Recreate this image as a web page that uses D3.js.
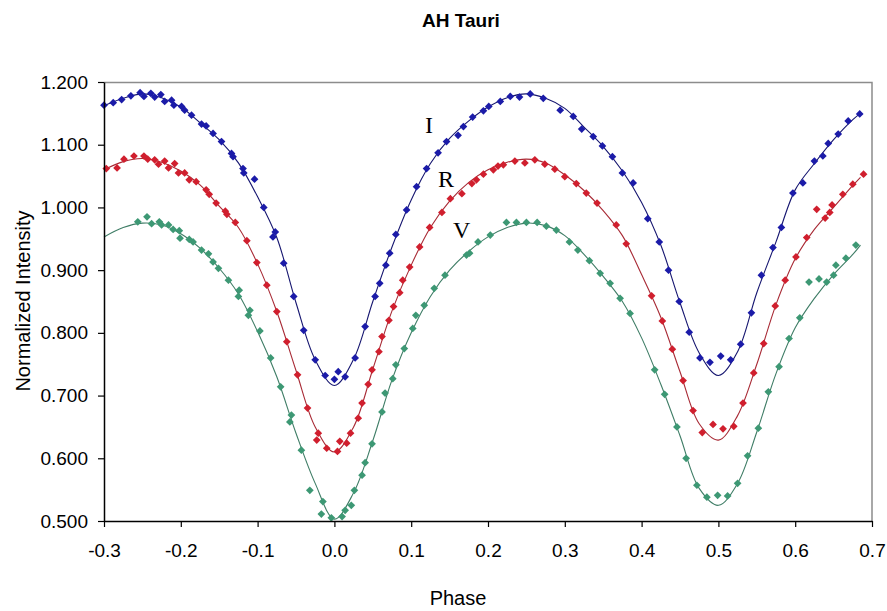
<!DOCTYPE html>
<html>
<head>
<meta charset="utf-8">
<script src="https://cdn.jsdelivr.net/npm/d3@7"></script>
<style>
  body { margin: 0; background: #fff; }
  svg { display: block; }
  .tick text { font-family: "Liberation Sans", Arial, sans-serif; font-size: 19px; fill: #000; }
</style>
</head>
<body>
<script>
// AH Tauri light curve in three bands (I, R, V)

// tick labels
var xTicks = [-0.3, -0.2, -0.1, 0.0, 0.1, 0.2, 0.3, 0.4, 0.5, 0.6, 0.7];
var yTicks = [0.5, 0.6, 0.7, 0.8, 0.9, 1.0, 1.1, 1.2];

// phases of the fitted model curves
var modelPhase = [-0.300, -0.275, -0.250, -0.225, -0.200, -0.175, -0.150, -0.125, -0.100, -0.075,
                  -0.050, -0.025, 0.000, 0.025, 0.050, 0.075, 0.100, 0.125, 0.150, 0.175,
                  0.200, 0.225, 0.250, 0.275, 0.300, 0.325, 0.350, 0.375, 0.400, 0.425,
                  0.450, 0.475, 0.500, 0.525, 0.550, 0.575, 0.600, 0.625, 0.650, 0.675, 0.685];

var modelI = [1.162, 1.174, 1.181, 1.175, 1.160, 1.135, 1.108, 1.071, 1.017, 0.952,
              0.848, 0.757, 0.716, 0.758, 0.850, 0.937, 1.012, 1.070, 1.110, 1.138,
              1.160, 1.175, 1.181, 1.174, 1.158, 1.128, 1.097, 1.058, 1.008, 0.940,
              0.848, 0.768, 0.732, 0.770, 0.864, 0.945, 1.028, 1.070, 1.108, 1.140, 1.150];

var modelR = [1.060, 1.073, 1.078, 1.072, 1.058, 1.036, 1.002, 0.968, 0.910, 0.834,
              0.740, 0.650, 0.610, 0.650, 0.742, 0.835, 0.908, 0.968, 1.010, 1.040,
              1.060, 1.072, 1.077, 1.071, 1.052, 1.027, 0.995, 0.955, 0.893, 0.825,
              0.738, 0.655, 0.629, 0.668, 0.750, 0.845, 0.918, 0.965, 1.000, 1.035, 1.048];

var modelV = [0.953, 0.968, 0.975, 0.972, 0.958, 0.935, 0.903, 0.862, 0.802, 0.730,
              0.640, 0.560, 0.503, 0.545, 0.628, 0.725, 0.800, 0.858, 0.900, 0.930,
              0.953, 0.968, 0.975, 0.971, 0.955, 0.925, 0.890, 0.850, 0.792, 0.718,
              0.636, 0.552, 0.525, 0.560, 0.642, 0.735, 0.808, 0.855, 0.893, 0.925, 0.940];

// observed points, I band
var obsPhaseI = [-0.300, -0.288, -0.277, -0.265, -0.253, -0.248, -0.239, -0.234, -0.226, -0.221,
                 -0.212, -0.209, -0.199, -0.195, -0.186, -0.173, -0.167, -0.158, -0.147, -0.134,
                 -0.132, -0.119, -0.118, -0.104, -0.092, -0.080, -0.077, -0.066, -0.053, -0.040,
                 -0.025, -0.012, 0.000, 0.005, 0.014, 0.027, 0.040, 0.053, 0.059, 0.067,
                 0.072, 0.080, 0.094, 0.107, 0.120, 0.135, 0.146, 0.161, 0.168, 0.180,
                 0.194, 0.201, 0.216, 0.229, 0.241, 0.255, 0.272, 0.294, 0.311, 0.322,
                 0.337, 0.349, 0.362, 0.375, 0.389, 0.408, 0.423, 0.435, 0.449, 0.462,
                 0.476, 0.489, 0.503, 0.516, 0.529, 0.543, 0.556, 0.571, 0.582, 0.597,
                 0.610, 0.625, 0.636, 0.643, 0.656, 0.669, 0.684];
var obsI = [1.163, 1.167, 1.172, 1.178, 1.183, 1.177, 1.182, 1.176, 1.180, 1.169,
            1.171, 1.163, 1.161, 1.155, 1.147, 1.133, 1.130, 1.118, 1.105, 1.086,
            1.081, 1.062, 1.055, 1.045, 1.000, 0.953, 0.961, 0.911, 0.858, 0.804,
            0.757, 0.732, 0.726, 0.738, 0.730, 0.760, 0.810, 0.858, 0.879, 0.908,
            0.927, 0.957, 0.996, 1.033, 1.062, 1.087, 1.105, 1.115, 1.129, 1.144,
            1.154, 1.161, 1.169, 1.177, 1.176, 1.181, 1.174, 1.155, 1.145, 1.125,
            1.113, 1.098, 1.081, 1.055, 1.039, 0.982, 0.945, 0.900, 0.850, 0.801,
            0.760, 0.753, 0.763, 0.757, 0.782, 0.832, 0.892, 0.936, 0.968, 1.023,
            1.039, 1.074, 1.082, 1.102, 1.117, 1.138, 1.149];

// observed points, R band
var obsPhaseR = [-0.297, -0.283, -0.274, -0.261, -0.248, -0.243, -0.234, -0.229, -0.221, -0.216,
                 -0.208, -0.203, -0.195, -0.189, -0.180, -0.167, -0.163, -0.154, -0.142, -0.140,
                 -0.129, -0.114, -0.101, -0.088, -0.075, -0.062, -0.048, -0.035, -0.021, -0.023,
                 -0.010, 0.004, 0.007, 0.016, 0.021, 0.031, 0.036, 0.044, 0.049, 0.058,
                 0.062, 0.071, 0.077, 0.085, 0.089, 0.098, 0.111, 0.124, 0.140, 0.151,
                 0.166, 0.179, 0.185, 0.194, 0.207, 0.213, 0.220, 0.235, 0.248, 0.261,
                 0.274, 0.287, 0.300, 0.315, 0.328, 0.342, 0.367, 0.380, 0.413, 0.427,
                 0.440, 0.454, 0.467, 0.479, 0.493, 0.506, 0.520, 0.532, 0.546, 0.559,
                 0.574, 0.587, 0.601, 0.615, 0.628, 0.639, 0.645, 0.648, 0.662, 0.675, 0.689];
var obsR = [1.062, 1.063, 1.077, 1.082, 1.082, 1.077, 1.076, 1.069, 1.074, 1.063,
            1.070, 1.055, 1.055, 1.044, 1.041, 1.028, 1.021, 1.007, 0.994, 0.989,
            0.976, 0.947, 0.912, 0.876, 0.834, 0.786, 0.733, 0.680, 0.640, 0.629,
            0.616, 0.611, 0.627, 0.624, 0.640, 0.664, 0.688, 0.718, 0.741, 0.770,
            0.794, 0.820, 0.842, 0.864, 0.884, 0.905, 0.937, 0.968, 0.992, 1.014,
            1.022, 1.038, 1.044, 1.053, 1.060, 1.066, 1.068, 1.074, 1.071, 1.076,
            1.069, 1.061, 1.049, 1.038, 1.023, 1.007, 0.972, 0.942, 0.859, 0.819,
            0.774, 0.724, 0.676, 0.641, 0.654, 0.647, 0.651, 0.688, 0.736, 0.783,
            0.843, 0.884, 0.921, 0.952, 0.997, 0.983, 0.992, 1.004, 1.021, 1.037, 1.053];

// observed points, V band
var obsPhaseV = [-0.256, -0.244, -0.238, -0.228, -0.225, -0.216, -0.210, -0.202, -0.201, -0.189,
                 -0.184, -0.173, -0.164, -0.158, -0.151, -0.138, -0.124, -0.125, -0.110, -0.112,
                 -0.097, -0.083, -0.070, -0.056, -0.058, -0.043, -0.032, -0.015, -0.017, -0.004,
                 0.010, 0.014, 0.022, 0.026, 0.036, 0.040, 0.049, 0.062, 0.066, 0.076,
                 0.080, 0.091, 0.102, 0.106, 0.117, 0.130, 0.144, 0.172, 0.176, 0.187,
                 0.203, 0.224, 0.237, 0.250, 0.264, 0.276, 0.289, 0.306, 0.317, 0.332,
                 0.346, 0.359, 0.372, 0.385, 0.417, 0.430, 0.446, 0.458, 0.472, 0.485,
                 0.499, 0.512, 0.525, 0.538, 0.552, 0.565, 0.579, 0.592, 0.606, 0.618,
                 0.631, 0.641, 0.650, 0.653, 0.666, 0.679];
var obsV = [0.977, 0.985, 0.974, 0.977, 0.972, 0.972, 0.965, 0.963, 0.951, 0.949,
            0.945, 0.932, 0.926, 0.913, 0.903, 0.884, 0.868, 0.858, 0.836, 0.828,
            0.803, 0.760, 0.714, 0.669, 0.658, 0.613, 0.549, 0.531, 0.511, 0.505,
            0.507, 0.517, 0.525, 0.549, 0.573, 0.593, 0.623, 0.674, 0.704, 0.727,
            0.749, 0.775, 0.807, 0.828, 0.844, 0.871, 0.892, 0.924, 0.927, 0.945,
            0.956, 0.976, 0.976, 0.976, 0.976, 0.970, 0.964, 0.945, 0.932, 0.915,
            0.895, 0.879, 0.855, 0.831, 0.741, 0.702, 0.650, 0.600, 0.557, 0.538,
            0.541, 0.540, 0.560, 0.604, 0.648, 0.706, 0.746, 0.791, 0.824, 0.881,
            0.886, 0.881, 0.892, 0.908, 0.919, 0.940];

var bands = [
  { name: "I", model: modelI, phase: obsPhaseI, obs: obsI, dot: "#1b1ba8", line: "#161670", lx: 425, ly: 133 },
  { name: "R", model: modelR, phase: obsPhaseR, obs: obsR, dot: "#d01f2e", line: "#a82a35", lx: 438, ly: 187 },
  { name: "V", model: modelV, phase: obsPhaseV, obs: obsV, dot: "#3d9874", line: "#3f7d66", lx: 453, ly: 238 }
];

var svgWidth = 887, svgHeight = 611;
var margin = { top: 82, right: 15, bottom: 90, left: 104 };
var width = svgWidth - margin.left - margin.right;
var height = svgHeight - margin.top - margin.bottom;

var svg = d3.select("body").append("svg")
    .attr("width", svgWidth)
    .attr("height", svgHeight);

var g = svg.append("g")
    .attr("transform", "translate(" + margin.left + "," + margin.top + ")");

var xScale = d3.scaleLinear().domain([-0.3, 0.7]).range([0, width]);
var yScale = d3.scaleLinear().domain([0.5, 1.2]).range([height, 0]);

// plot frame: grey top and right
g.append("path")
    .attr("d", "M0,0.5H" + width + "V" + height)
    .attr("fill", "none")
    .attr("stroke", "#8c8c8c")
    .attr("stroke-width", 1.5);

// model curves
bands.forEach(function(b) {
  var line = d3.line()
      .x(function(d, i) { return xScale(modelPhase[i]); })
      .y(function(d) { return yScale(d); })
      .curve(d3.curveCatmullRom.alpha(0.5));
  g.append("path")
      .datum(b.model)
      .attr("d", line)
      .attr("fill", "none")
      .attr("stroke", b.line)
      .attr("stroke-width", 1.1);
});

// observed points as diamonds
var diamond = d3.symbol().type(d3.symbolSquare).size(30);
bands.forEach(function(b) {
  g.append("g").selectAll("path")
      .data(b.obs)
      .enter()
      .append("path")
      .attr("d", diamond)
      .attr("transform", function(d, i) {
        return "translate(" + xScale(b.phase[i]) + "," + yScale(d) + ") rotate(45)";
      })
      .attr("fill", b.dot);
});

// band labels
bands.forEach(function(b) {
  svg.append("text")
      .attr("x", b.lx)
      .attr("y", b.ly)
      .style("font-family", "'Liberation Serif', 'Times New Roman', serif")
      .style("font-size", "24px")
      .text(b.name);
});

// axes
var xAxis = g.append("g")
    .attr("transform", "translate(0," + height + ")")
    .call(d3.axisBottom(xScale)
      .tickValues(xTicks)
      .tickFormat(function(d) { return d.toFixed(1); })
      .tickSize(6).tickSizeOuter(0).tickPadding(17));

var yAxis = g.append("g")
    .call(d3.axisLeft(yScale)
      .tickValues(yTicks)
      .tickFormat(function(d) { return d.toFixed(3); })
      .tickSize(6).tickSizeOuter(0).tickPadding(10));

[xAxis, yAxis].forEach(function(a) {
  a.select(".domain").attr("stroke", "#000").attr("stroke-width", 1.5);
  a.selectAll(".tick line").attr("stroke", "#000").attr("stroke-width", 1.2);
});

// title and axis labels
svg.append("text")
    .attr("x", 461)
    .attr("y", 27)
    .style("text-anchor", "middle")
    .style("font-family", "'Liberation Sans', Arial, sans-serif")
    .style("font-weight", "bold")
    .style("font-size", "19px")
    .text("AH Tauri");

svg.append("text")
    .attr("transform", "rotate(-90)")
    .attr("x", -301)
    .attr("y", 30)
    .style("text-anchor", "middle")
    .style("font-family", "'Liberation Sans', Arial, sans-serif")
    .style("font-size", "20px")
    .text("Normalized Intensity");

svg.append("text")
    .attr("x", 458)
    .attr("y", 605)
    .style("text-anchor", "middle")
    .style("font-family", "'Liberation Sans', Arial, sans-serif")
    .style("font-size", "20px")
    .text("Phase");
</script>
</body>
</html>
